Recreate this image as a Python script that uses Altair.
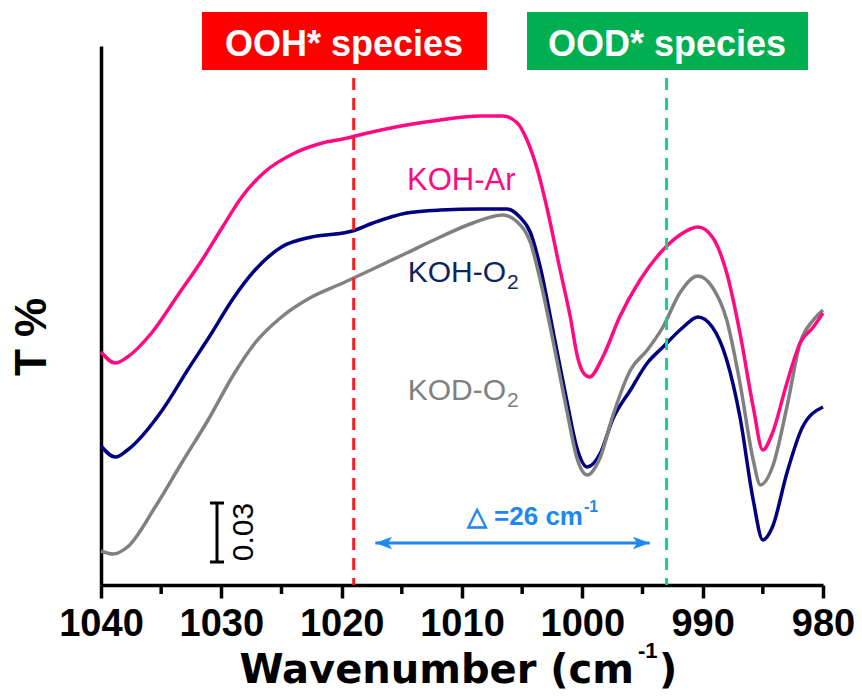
import altair as alt
import pandas as pd

# ---------------- data ----------------
# wavenumber (cm-1) and transmittance in arbitrary offset units
wn_ar = [1040.0, 1038.8, 1037.8, 1035.8, 1033.6, 1031.6, 1029.9, 1028.3, 1026.4, 1023.9,
         1021.6, 1019.9, 1018.2, 1014.6, 1011.8, 1008.5, 1006.6, 1005.4, 1004.6, 1003.8,
         1002.9, 1001.9, 1001.0, 1000.4, 999.9, 999.4, 998.3, 996.9, 995.2, 993.3,
         991.9, 990.4, 989.2, 988.0, 986.9, 985.8, 985.0, 984.2, 983.0, 981.9, 980.8, 980.0]
t_ar = [233, 222, 228, 252, 290, 325, 358, 388, 413, 432,
        442, 446, 451, 460, 465, 469, 469, 462, 445, 418,
        375, 318, 268, 228, 212, 208, 228, 268, 305, 335,
        350, 358, 348, 312, 252, 178, 135, 152, 202, 242, 258, 272]

wn_o2 = [1040.0, 1038.8, 1037.8, 1034.9, 1032.8, 1030.8, 1029.1, 1027.2, 1025.0, 1022.5,
         1019.9, 1019.1, 1017.4, 1014.6, 1011.8, 1008.5, 1006.3, 1005.2, 1004.3, 1003.5,
         1002.4, 1001.3, 1000.4, 999.6, 998.5, 997.5, 996.0, 994.6, 993.3, 991.6,
         990.4, 989.2, 988.0, 986.9, 985.8, 985.0, 984.2, 983.0, 981.7, 980.0]
t_o2 = [139, 128, 135, 175, 215, 252, 285, 315, 338, 348,
        352, 354, 362, 372, 375, 376, 376, 368, 352, 318,
        252, 185, 135, 118, 132, 165, 195, 222, 238, 258,
        268, 258, 225, 168, 85, 45, 58, 112, 158, 178]

wn_d2 = [1040.0, 1039.0, 1037.8, 1035.5, 1033.3, 1031.1, 1028.9, 1027.2, 1025.0, 1022.5,
         1019.9, 1017.4, 1014.6, 1011.8, 1009.1, 1006.6, 1005.4, 1004.3, 1003.5, 1002.4,
         1001.3, 1000.4, 999.6, 998.5, 997.5, 996.0, 994.6, 993.3, 991.9, 990.4,
         989.2, 988.0, 986.9, 985.8, 985.2, 984.2, 983.0, 981.9, 980.8, 980.0]
t_d2 = [34, 31, 38, 78, 122, 165, 212, 242, 268, 288,
        302, 316, 332, 348, 362, 370, 363, 342, 305, 242,
        175, 125, 110, 128, 168, 215, 235, 258, 292, 309,
        298, 265, 202, 125, 100, 118, 178, 242, 265, 275]

series_names = ["KOH-O2", "KOD-O2", "KOH-Ar"]
series_colors = ["#000080", "#808080", "#FF0A82"]
label_colors = ["#0A2560", "#808080", "#FF0A82"]

x_ticks = [1040, 1030, 1020, 1010, 1000, 990, 980]
x_minor = [1035, 1025, 1015, 1005, 995, 985]
marker_wn = [1019, 993]
marker_colors = ["#FF1A1A", "#20CC88"]
box_texts = ["OOH* species", "OOD* species"]
box_colors = ["#FF0000", "#00B050"]
arrow_wn = [1017.2, 994.4]
arrow_t = 42
delta_text = "\u25B3 =26 cm"
scale_text = "0.03"

# ---------------- chart ----------------
W, H = 722, 539
FONT = "Liberation Sans"

rows = []
for name, xs, ys in [("KOH-O2", wn_o2, t_o2), ("KOD-O2", wn_d2, t_d2), ("KOH-Ar", wn_ar, t_ar)]:
    for a, b in zip(xs, ys):
        rows.append({"series": name, "wn": a, "t": b})
df = pd.DataFrame(rows)

xscale = alt.Scale(domain=[980, 1040], reverse=True, nice=False, zero=False)
yscale = alt.Scale(domain=[0, 539], nice=False, zero=False)
xaxis = alt.Axis(values=x_ticks, title=None, format="d", labelFont=FONT, labelFontSize=38,
                 labelFontWeight="bold", labelColor="black", tickSize=13, tickWidth=3.5,
                 tickColor="black", domainColor="black", domainWidth=3.5, labelPadding=7,
                 grid=False, labelFlush=False, labelOverlap=False)
yaxis = alt.Axis(title=None, labels=False, ticks=False, grid=False, domainColor="black",
                 domainWidth=3.5)


def X(field):
    return alt.X(field, type="quantitative", scale=xscale, axis=xaxis)


def Y(field):
    return alt.Y(field, type="quantitative", scale=yscale, axis=yaxis)


layers = []
for name, col in zip(series_names, series_colors):
    layers.append(
        alt.Chart(df).transform_filter(alt.datum.series == name)
        .mark_line(strokeWidth=3.5, interpolate="monotone", color=col)
        .encode(x=X("wn"), y=Y("t"))
    )

# dashed marker lines
for w, c in zip(marker_wn, marker_colors):
    layers.append(
        alt.Chart(pd.DataFrame({"wn": [w]}))
        .mark_rule(color=c, strokeWidth=3, strokeDash=[12, 8])
        .encode(x=X("wn"), y=alt.value(32), y2=alt.value(H))
    )

# minor ticks
layers.append(
    alt.Chart(pd.DataFrame({"wn": x_minor}))
    .mark_rule(color="black", strokeWidth=3.5)
    .encode(x=X("wn"), y=alt.value(H), y2=alt.value(H + 9))
)

ONE = pd.DataFrame({"k": [0]})


def text(t, x, y, size, color, weight="normal", align="left", baseline="alphabetic",
         angle=0, font=FONT):
    return alt.Chart(ONE).mark_text(text=t, fontSize=size, color=color, fontWeight=weight,
                                    align=align, baseline=baseline, angle=angle,
                                    font=font).encode(x=alt.value(x), y=alt.value(y))


def box(x1, x2, y1, y2, color):
    return alt.Chart(ONE).mark_rect(color=color).encode(
        x=alt.value(x1), x2=alt.value(x2), y=alt.value(y1), y2=alt.value(y2))


# species boxes
layers.append(box(101, 386, -34, 24, box_colors[0]))
layers.append(text(box_texts[0], 243, -1, 36, "white", "bold", "center", "middle"))
layers.append(box(426, 707, -34, 24, box_colors[1]))
layers.append(text(box_texts[1], 566, -1, 36, "white", "bold", "center", "middle"))

# double arrow
layers.append(
    alt.Chart(pd.DataFrame({"a": [arrow_wn[0]], "b": [arrow_wn[1]], "t": [arrow_t]}))
    .mark_rule(color="#1E88F0", strokeWidth=3)
    .encode(x=X("a"), x2="b", y=Y("t"))
)
layers.append(
    alt.Chart(pd.DataFrame({"wn": [arrow_wn[0]], "t": [arrow_t]}))
    .mark_point(shape="M0,0L2,-0.75L1.5,0L2,0.75Z", size=280, filled=True, opacity=1,
                color="#1E88F0", strokeWidth=0)
    .encode(x=X("wn"), y=Y("t"))
)
layers.append(
    alt.Chart(pd.DataFrame({"wn": [arrow_wn[1]], "t": [arrow_t]}))
    .mark_point(shape="M0,0L-2,-0.75L-1.5,0L-2,0.75Z", size=280, filled=True, opacity=1,
                color="#1E88F0", strokeWidth=0)
    .encode(x=X("wn"), y=Y("t"))
)
layers.append(text(delta_text, 482, 479, 26, "#1E88F0", "bold", "right"))
layers.append(text("-1", 483, 466, 16, "#1E88F0", "bold", "left"))

# scale bar
layers.append(alt.Chart(ONE).mark_rule(color="black", strokeWidth=3).encode(
    x=alt.value(116), y=alt.value(457), y2=alt.value(516)))
for yy in [457, 516]:
    layers.append(alt.Chart(ONE).mark_rule(color="black", strokeWidth=3).encode(
        x=alt.value(109), x2=alt.value(123), y=alt.value(yy)))
layers.append(text(scale_text, 143, 486, 30, "black", "normal", "center", "middle", 270))

# series labels
layers.append(text("KOH-Ar", 306, 144, 31, label_colors[2]))
layers.append(text("KOH-O", 405, 236, 30, label_colors[0], align="right"))
layers.append(text("2", 406, 243, 21, label_colors[0]))
layers.append(text("KOD-O", 405, 354, 30, label_colors[1], align="right"))
layers.append(text("2", 406, 361, 21, label_colors[1]))

# axis titles
layers.append(text("Wavenumber (cm", 533, 637, 40, "black", "bold", "right",
                   font="DejaVu Sans"))
layers.append(text("-1", 537, 612, 22, "black", "bold", "left"))
layers.append(text(")", 558, 637, 40, "black", "bold", "left", font="DejaVu Sans"))
layers.append(text("T %", -68, 291, 44, "black", "bold", "center", "middle", 270))

chart = alt.layer(*layers).properties(
    width=W, height=H,
    autosize=alt.AutoSizeParams(type="none"),
    padding={"left": 101, "top": 46, "right": 39, "bottom": 113},
    background="white",
).configure_view(stroke=None)

chart.save("out.html", embed_options={"renderer": "svg", "actions": False})
